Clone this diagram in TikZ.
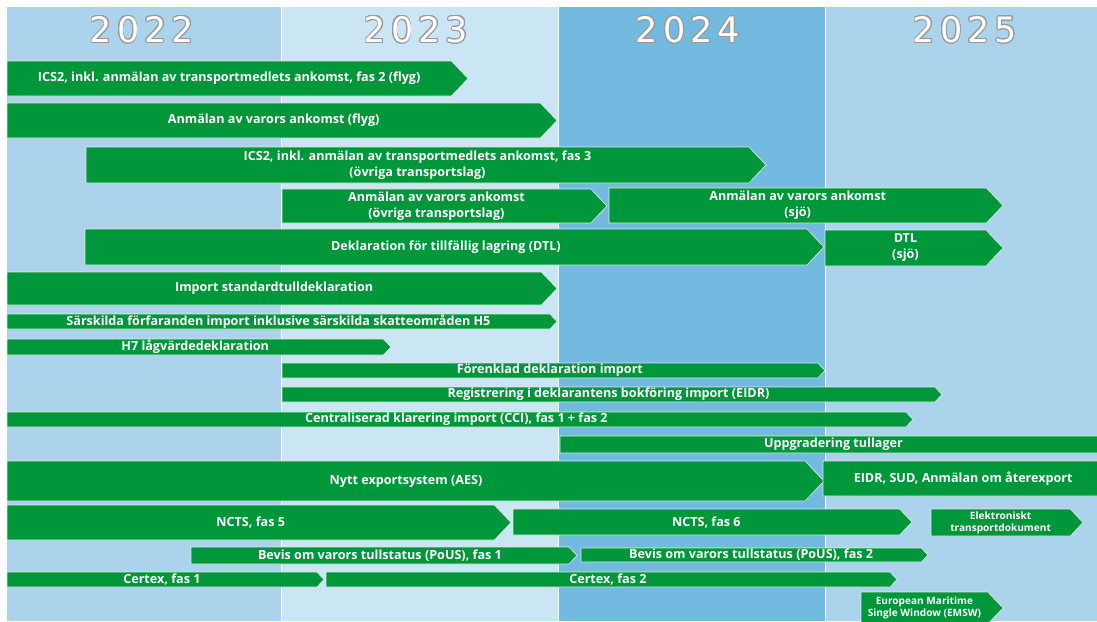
\documentclass[tikz,border=0pt]{standalone}
\usepackage{fontspec}
\usepackage[copies]{contour}
\newfontfamily\barfont{Open Sans}
\newfontfamily\yearfont{DejaVu Sans}
\definecolor{tullgreen}{RGB}{0,150,58}
\definecolor{yearA}{RGB}{171,211,236}
\definecolor{yearB}{RGB}{202,229,244}
\definecolor{yearC}{RGB}{114,186,224}
\contourlength{0.8pt}
\contournumber{24}

\tikzset{
  phase/.style={fill=tullgreen, draw=white!85!tullgreen, line width=0.7pt},
  phasetext/.style={text=white, font=\barfont\bfseries\fontsize{12.6}{16}\selectfont, align=center, inner sep=0pt},
  smalltext/.style={font=\barfont\bfseries\fontsize{10.1}{12}\selectfont},
  yeartext/.style={text=white, font=\yearfont\fontsize{35}{40}\selectfont},
}

% [style], name, x start, x tip, y top, y bottom, text
\newcommand{\phasebar}[7][]{%
  \pgfmathsetmacro{\phmid}{(#5+#6)/2}
  \pgfmathsetmacro{\phend}{#4-0.95*(#6-#5)/2}
  \draw[phase] (#3,#5) -- (\phend,#5) -- (#4,\phmid) -- (\phend,#6) -- (#3,#6) -- cycle;
  \node[phasetext,#1] (#2) at ({(#3+\phend)/2},\phmid) {#7};
}
\newcommand{\yr}[4]{#1\kern5pt#2\kern5pt#3\kern5pt#4}

\begin{document}
\begin{tikzpicture}[x=1pt,y=-1pt]
\useasboundingbox (0,0) rectangle (1097,621);
\clip (0,0) rectangle (1097,621);
% year columns
\fill[white] (0,0) rectangle (1097,621);
\fill[yearA] (7,7) rectangle (281,621);
\fill[yearB] (281,7) rectangle (558,621);
\fill[yearC] (558,7) rectangle (825,621);
\fill[yearA] (825,7) rectangle (1097,621);
\foreach \sx in {281,558,825}
  \draw[white, line width=1pt] (\sx,7) -- (\sx,621);
\node[yeartext] (y2022) at (142,30) {\contour{gray!80}{\yr2022}};
\node[yeartext] (y2023) at (416,30) {\contour{gray!80}{\yr2023}};
\node[yeartext] (y2024) at (688,30) {\contour{gray!80}{\yr2024}};
\node[yeartext] (y2025) at (965,30) {\contour{gray!80}{\yr2025}};
% arrival and storage
\phasebar{icsflyg}{7}{468}{61}{96}{ICS2, inkl. anmälan av transportmedlets ankomst, fas 2 (flyg)}
\phasebar{ankflyg}{7}{557}{103}{138}{Anmälan av varors ankomst (flyg)}
\phasebar{icsovr}{86}{766}{147}{183}{ICS2, inkl. anmälan av transportmedlets ankomst, fas 3\\(övriga transportslag)}
\phasebar{ankovr}{282}{607}{189}{223}{Anmälan av varors ankomst\\(övriga transportslag)}
\phasebar{anksjo}{609}{1003}{188}{223}{Anmälan av varors ankomst\\(sjö)}
\phasebar{dtl}{85}{824}{229}{265}{Deklaration för tillfällig lagring (DTL)}
\phasebar{dtlsjo}{825}{1003}{230}{266}{DTL\\(sjö)}
% import
\phasebar{importstd}{7}{557}{272}{305}{Import standardtulldeklaration}
\phasebar{hfem}{7}{557}{314}{329}{Särskilda förfaranden import inklusive särskilda skatteområden H5}
\phasebar{hsju}{7}{391}{339}{355}{H7 lågvärdedeklaration}
\phasebar{forenklad}{282}{825}{363}{378}{Förenklad deklaration import}
\phasebar{eidr}{282}{942}{387}{402}{Registrering i deklarantens bokföring import (EIDR)}
\phasebar{cci}{7}{913}{412}{427}{Centraliserad klarering import (CCI), fas 1 + fas 2}
\phasebar{tullager}{560}{1115}{436}{453}{Uppgradering tullager}
% export and transit
\phasebar{aes}{7}{824}{461}{501}{Nytt exportsystem (AES)}
\phasebar{eidrsud}{823}{1120}{461}{496}{EIDR, SUD, Anmälan om återexport}
\phasebar{nctsfem}{7}{511}{505}{540}{NCTS, fas 5}
\phasebar{nctssex}{513}{912}{509}{535}{NCTS, fas 6}
\phasebar[smalltext]{etd}{931}{1083}{509}{536}{Elektroniskt\\transportdokument}
\phasebar{pousett}{191}{577}{547}{564}{Bevis om varors tullstatus (PoUS), fas 1}
\phasebar{poustva}{581}{928}{548}{562}{Bevis om varors tullstatus (PoUS), fas 2}
\phasebar{certexett}{7}{324}{572}{587}{Certex, fas 1}
\phasebar{certextva}{326}{897}{572}{587}{Certex, fas 2}
\phasebar[smalltext]{emsw}{861}{1003}{592}{624}{European Maritime\\Single Window (EMSW)}
\end{tikzpicture}
\end{document}
